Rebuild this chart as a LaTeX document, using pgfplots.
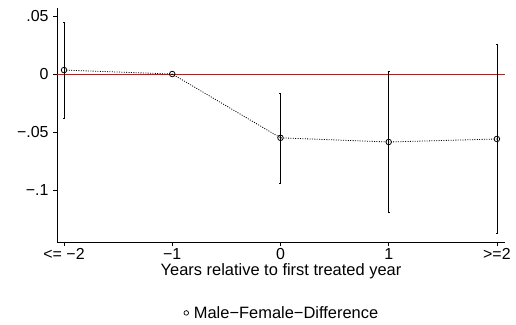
\documentclass[border=0pt]{standalone}
\usepackage{pgfplots}
\pgfplotsset{compat=1.18}
\usepackage{pgfplotstable}
\usepackage{fontspec}
\setmainfont{Liberation Sans}
\pgfplotstableread{
x y e
-2 0.0034 0.0414
-1 0.0 0
0 -0.055 0.0388
1 -0.0586 0.0608
2 -0.056 0.0815
}\data
\begin{document}
\begin{tikzpicture}[x=1bp,y=1bp]
\path[use as bounding box] (0,0) rectangle (516,324);
\begin{axis}[
  at={(57bp,82bp)}, anchor=south west,
  scale only axis, width=448bp, height=234bp,
  xmin=-2.065, xmax=2.075, ymin=-0.1448, ymax=0.0569,
  axis x line=bottom, axis y line=left,
  axis line style={-, black, line width=0.8pt},
  xtick={-2,-1,0,1,2},
  xticklabels={<= −2, −1, 0, 1, >=2},
  ytick={-0.1,-0.05,0,0.05},
  yticklabels={−.1, −.05, 0, .05},
  tick align=outside, tick style={black, line width=0.7pt},
  major tick length=4bp,
  tick label style={font=\fontsize{16}{18}\selectfont},
  yticklabel style={xshift=-1bp},
  xticklabel style={yshift=1bp},
  xlabel={Years relative to first treated year},
  xlabel style={font=\fontsize{16.5}{18}\selectfont, at={(axis description cs:0.5,-0.124)}, anchor=center},
  legend style={draw=none, fill=none, at={(0.502,-0.303)}, anchor=center, font=\fontsize{16.5}{18}\selectfont},
  legend cell align=left,
  legend image code/.code={\draw[black, line width=0.7pt] (0.3cm,0cm) circle (2.3pt);},
  clip=false,
]
\addplot[red, line width=0.8pt, forget plot] coordinates {(-2.065,0) (2.075,0)};
\addplot[black, dash pattern=on 1pt off 1.4pt, line width=0.8pt, forget plot] table[x=x,y=y] {\data};
\addplot[black, only marks, mark=o, mark size=2.8pt, mark options={line width=0.8pt},
  error bars/.cd, y dir=both, y explicit,
  error bar style={black, line width=0.8pt},
  error mark options={rotate=90, mark size=1pt, black}]
  table[x=x,y=y,y error=e] {\data};
\addlegendentry{\hspace{3bp}Male−Female−Difference}
\end{axis}
\end{tikzpicture}
\end{document}
